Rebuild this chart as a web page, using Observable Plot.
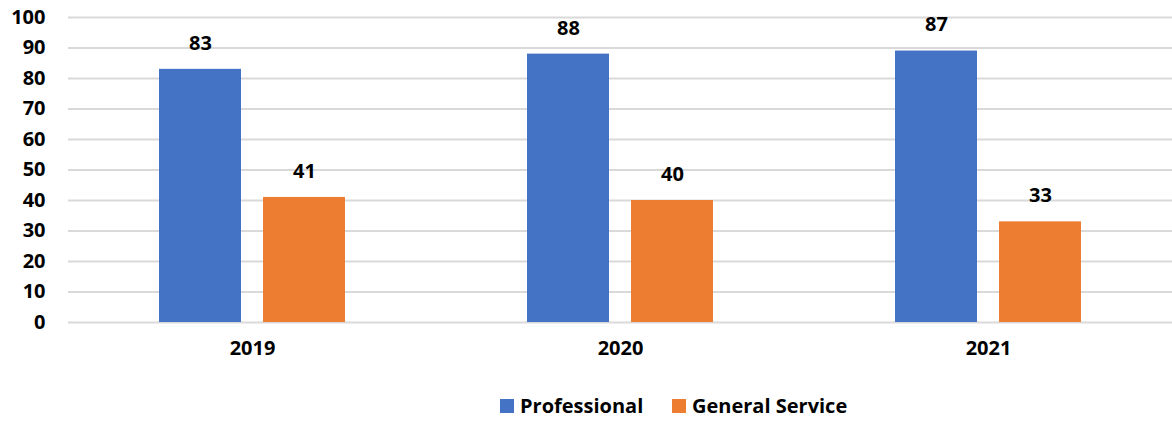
<!DOCTYPE html>
<html>
<head>
<meta charset="utf-8">
<script src="https://cdn.jsdelivr.net/npm/d3@7"></script>
<script src="https://cdn.jsdelivr.net/npm/@observablehq/plot@0.6"></script>
<style>
  body { margin: 0; background: #fff; font-family: "Open Sans", sans-serif; }
  #legend { position: relative; width: 1172px; height: 49px; font-family: "Open Sans", sans-serif; font-weight: bold; font-size: 20px; color: #000; }
  .item { position: absolute; top: 20px; display: flex; align-items: center; white-space: nowrap; }
  .sw { width: 14px; height: 14px; margin-right: 6px; }
</style>
</head>
<body>
<div id="chart"></div>
<div id="legend"></div>
<script>
const years = ["2019", "2020", "2021"];
const series = ["Professional", "General Service"];
const professional = [83, 88, 89];
const generalService = [41, 40, 33];
const professionalLabels = ["83", "88", "87"];
const generalServiceLabels = ["41", "40", "33"];
const yTicks = [0, 10, 20, 30, 40, 50, 60, 70, 80, 90, 100];
const colors = ["#4472c4", "#ed7d31"];

const data = [];
years.forEach((yr, i) => {
  data.push({year: yr, series: series[0], value: professional[i], label: professionalLabels[i]});
  data.push({year: yr, series: series[1], value: generalService[i], label: generalServiceLabels[i]});
});

const chart = Plot.plot({
  width: 1172,
  height: 372,
  marginLeft: 68,
  marginRight: 0,
  marginTop: 17,
  marginBottom: 50,
  style: {fontFamily: "Open Sans", fontWeight: "bold", fontSize: "20px", color: "#000", background: "#fff"},
  y: {domain: [0, 100], ticks: yTicks, tickSize: 0, tickPadding: 23, label: null},
  fx: {domain: years, padding: 0, label: null, tickSize: 0, tickPadding: 18},
  x: {domain: series, paddingInner: 0.21, paddingOuter: 0.86, axis: null},
  color: {domain: series, range: colors},
  marks: [
    Plot.ruleY(yTicks, {stroke: "#d9d9d9", strokeWidth: 2}),
    Plot.barY(data, {fx: "year", x: "series", y: "value", fill: "series"}),
    Plot.text(data, {fx: "year", x: "series", y: "value", text: "label", dy: -26, fontSize: 20, fontWeight: "bold", fill: "#000"})
  ]
});
document.getElementById("chart").appendChild(chart);

const legend = document.getElementById("legend");
const lefts = [500, 672];
series.forEach((s, i) => {
  const it = document.createElement("div");
  it.className = "item";
  it.style.left = lefts[i] + "px";
  const sw = document.createElement("div");
  sw.className = "sw";
  sw.style.background = colors[i];
  const t = document.createElement("span");
  t.textContent = s;
  it.appendChild(sw);
  it.appendChild(t);
  legend.appendChild(it);
});
</script>
</body>
</html>
